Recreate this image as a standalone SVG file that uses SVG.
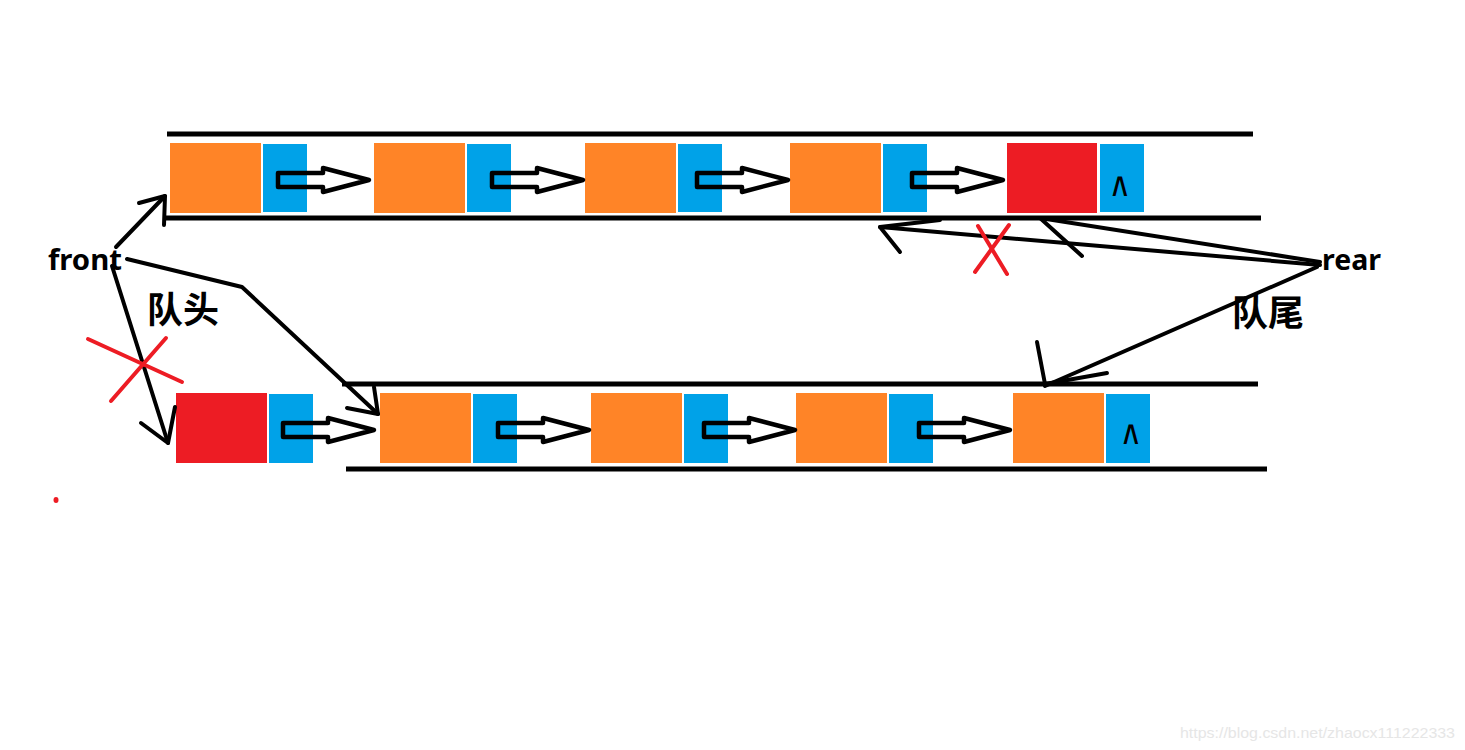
<svg xmlns="http://www.w3.org/2000/svg" width="1465" height="750" viewBox="0 0 1465 750">
<style>
.or{fill:#FF8427}
.bl{fill:#00A2E8}
.rd{fill:#ED1C24}
.rail{stroke:#000;stroke-width:5;fill:none}
.ln{stroke:#000;stroke-width:4;fill:none;stroke-linecap:round;stroke-linejoin:round}
.x{stroke:#ED1C24;stroke-width:4;fill:none;stroke-linecap:round}
.lbl{font-family:"Noto Sans","Liberation Sans",sans-serif;font-weight:bold;font-size:28px;fill:#000}
.cjk{font-family:"Noto Sans CJK SC","Noto Sans",sans-serif;font-weight:bold;font-size:36px;fill:#000}
.nul{font-family:"Liberation Sans",sans-serif;font-weight:bold;font-size:30px;fill:#000;text-anchor:middle}
</style>
<defs>
<polygon id="harrow" points="0,-7 45,-7 45,-12 91,0 45,12 45,7 0,7" fill="none" stroke="#000" stroke-width="4.5" stroke-linejoin="round"/>
</defs>
<rect width="1465" height="750" fill="#fff"/>
<g id="rails">
<line class="rail" x1="167" y1="134" x2="1253" y2="134"/>
<line class="rail" x1="163" y1="218" x2="1261" y2="218"/>
<line class="rail" x1="342" y1="384" x2="1258" y2="384"/>
<line class="rail" x1="346" y1="469" x2="1267" y2="469"/>
</g>
<g id="top1"><rect class="or" x="170" y="143" width="91" height="70"/><rect class="bl" x="263" y="144" width="44" height="68"/></g>
<g id="top2"><rect class="or" x="374" y="143" width="91" height="70"/><rect class="bl" x="467" y="144" width="44" height="68"/></g>
<g id="top3"><rect class="or" x="585" y="143" width="91" height="70"/><rect class="bl" x="678" y="144" width="44" height="68"/></g>
<g id="top4"><rect class="or" x="790" y="143" width="91" height="70"/><rect class="bl" x="883" y="144" width="44" height="68"/></g>
<g id="top5"><rect class="rd" x="1007" y="143" width="90" height="70"/><rect class="bl" x="1100" y="144" width="44" height="68"/><text class="nul" transform="translate(1120,206.5) scale(0.9,1.5)">^</text></g>
<g id="bot1"><rect class="rd" x="176" y="393" width="91" height="70"/><rect class="bl" x="269" y="394" width="44" height="69"/></g>
<g id="bot2"><rect class="or" x="380" y="393" width="91" height="70"/><rect class="bl" x="473" y="394" width="44" height="69"/></g>
<g id="bot3"><rect class="or" x="591" y="393" width="91" height="70"/><rect class="bl" x="684" y="394" width="44" height="69"/></g>
<g id="bot4"><rect class="or" x="796" y="393" width="91" height="70"/><rect class="bl" x="889" y="394" width="44" height="69"/></g>
<g id="bot5"><rect class="or" x="1013" y="393" width="91" height="70"/><rect class="bl" x="1106" y="394" width="44" height="69"/><text class="nul" transform="translate(1131,454.5) scale(0.9,1.5)">^</text></g>
<g id="front"><text class="lbl" x="48" y="270" textLength="74" lengthAdjust="spacingAndGlyphs">front</text></g>
<g id="rear"><text class="lbl" x="1322" y="270" textLength="59" lengthAdjust="spacingAndGlyphs">rear</text></g>
<g id="head-label"><text class="cjk" x="147" y="323">队头</text></g>
<g id="tail-label"><text class="cjk" x="1232" y="326">队尾</text></g>
<g id="connectors">
<use href="#harrow" x="278" y="180"/>
<use href="#harrow" x="492" y="180"/>
<use href="#harrow" x="697" y="180"/>
<use href="#harrow" x="912" y="180"/>
<use href="#harrow" x="283" y="430"/>
<use href="#harrow" x="498" y="430"/>
<use href="#harrow" x="704" y="430"/>
<use href="#harrow" x="919" y="430"/>
<polyline class="ln" points="116,247 165,196"/>
<polyline class="ln" points="139,203 165,196 164,225"/>
<polyline class="ln" points="112,266 168,443"/>
<polyline class="ln" points="141,423 168,443 175,407"/>
<polyline class="ln" points="127,259 242,287 378,414"/>
<polyline class="ln" points="347,408 378,414 374,387"/>
<polyline class="ln" points="1320,265 880,227"/>
<polyline class="ln" points="940,220 880,227 900,252"/>
<polyline class="ln" points="1320,262 1040,218"/>
<polyline class="ln" points="1040,218 1082,256"/>
<polyline class="ln" points="1317,267 1045,386"/>
<polyline class="ln" points="1037,342 1045,384 1107,373"/>
</g>
<g id="marks">
<line class="x" x1="88" y1="339" x2="182" y2="382"/>
<line class="x" x1="111" y1="401" x2="166" y2="338"/>
<line class="x" x1="978" y1="226" x2="1007" y2="274"/>
<line class="x" x1="1009" y1="225" x2="975" y2="272"/>
<ellipse cx="56" cy="500" rx="2.5" ry="3" fill="#ED1C24"/>
</g>
<text x="1180" y="738" font-family="Liberation Sans,Arial,sans-serif" font-size="15" fill="#e6e6e6" textLength="275" lengthAdjust="spacingAndGlyphs">https://blog.csdn.net/zhaocx111222333</text>
</svg>
